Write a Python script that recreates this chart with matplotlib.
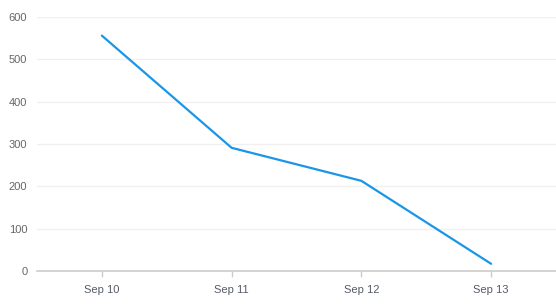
import matplotlib
matplotlib.use('Agg')
import matplotlib.pyplot as plt

plt.rcParams['font.family'] = ['Liberation Sans', 'DejaVu Sans']

days = ['Sep 10', 'Sep 11', 'Sep 12', 'Sep 13']
counts = [556, 291, 213, 17]
yticks = [0, 100, 200, 300, 400, 500, 600]

fig = plt.figure(figsize=(5.56, 3.07), dpi=100)
ax = fig.add_axes([37/556, 1 - 271/307, 1 - 37/556, (271 - 17)/307])

ax.plot(range(len(days)), counts, color='#1a96e8', lw=1.6, solid_capstyle='round')

ax.set_xlim(-0.5, len(days) - 0.5)
ax.set_ylim(0, 600)
ax.set_xticks(range(len(days)))
ax.set_xticklabels(days)
ax.set_yticks(yticks)

ax.grid(axis='y', color='#f0f0f0', lw=1)
ax.set_axisbelow(True)
for s in ['top', 'right', 'left']:
    ax.spines[s].set_visible(False)
ax.spines['bottom'].set_color('#cccccc')
ax.spines['bottom'].set_linewidth(1.2)

ax.tick_params(axis='x', colors='#cccccc', length=4, width=1, labelcolor='#555a66', labelsize=8, pad=6)
ax.tick_params(axis='y', length=0, labelcolor='#666666', labelsize=8, pad=7)

fig.savefig('out.png', dpi=100)
